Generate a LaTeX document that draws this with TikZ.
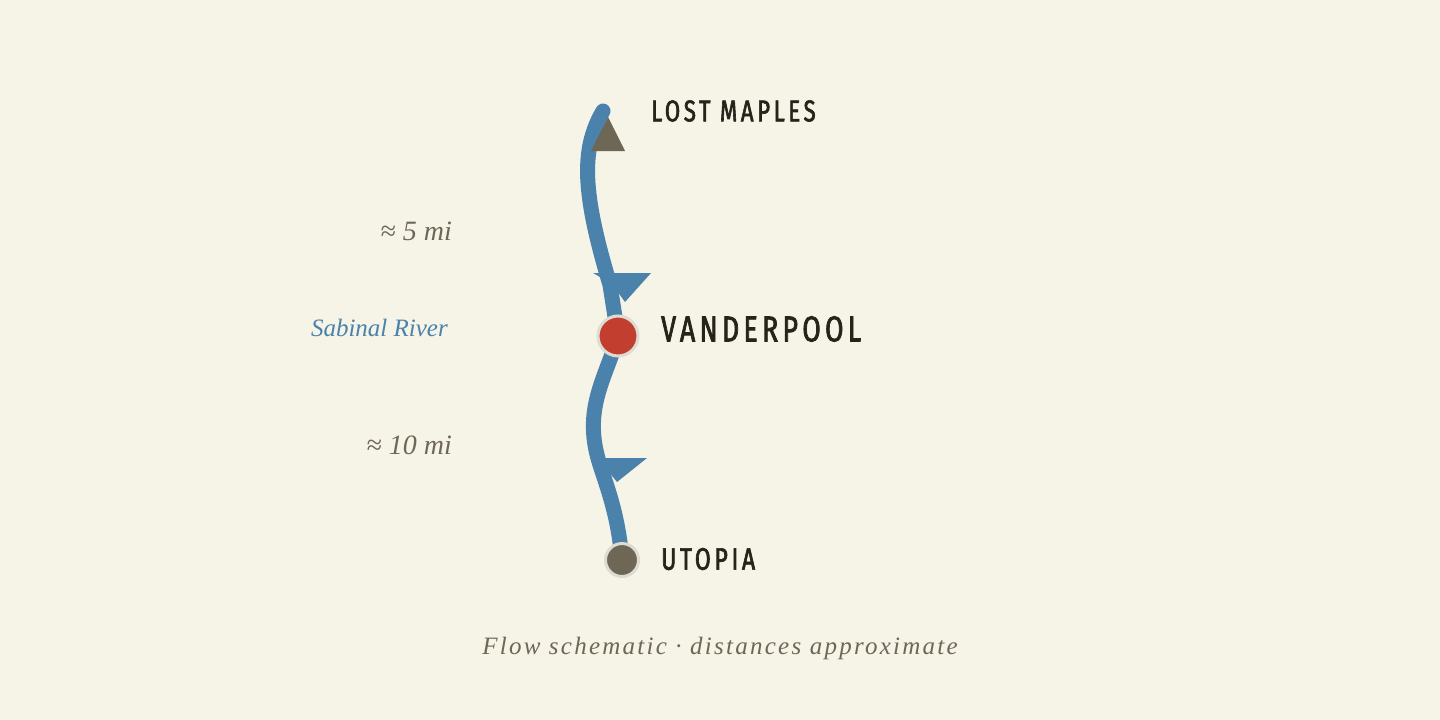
\documentclass[tikz,border=0pt]{standalone}
\usepackage{fontspec}
\setmainfont{Liberation Serif}
\newfontfamily\lbl[FakeStretch=0.74,FakeBold=2,LetterSpace=12]{Fira Sans}
\begin{document}
\begin{tikzpicture}[x=1pt,y=-1pt,
  river/.style={draw=riv,line width=15pt,line cap=round},
  flowmark/.style={fill=riv,draw=none},
  place/.style={anchor=west,inner sep=0},
  note/.style={inner sep=0}]
\definecolor{bg}{HTML}{F6F3E7}
\definecolor{riv}{HTML}{4A82AB}
\definecolor{ink}{HTML}{26231A}
\definecolor{grayt}{HTML}{6E6756}
\definecolor{redc}{HTML}{C23E2F}
\fill[bg] (0,0) rectangle (1440,720);
\useasboundingbox (0,0) rectangle (1440,720);
\coordinate (src) at (603,111);
\coordinate (van) at (618,336);
\coordinate (uto) at (622,560);
\draw[river] (src) .. controls (580,150) and (583,195) .. (610,285) -- (van);
\draw[river] (van) .. controls (605,380) and (582,410) .. (600,465) .. controls (608,490) and (618,515) .. (uto);
\fill[flowmark] (593,273) -- (651,273) -- (625,302) -- (612,284) -- cycle;
\fill[flowmark] (590,458) -- (647,458) -- (617,482) -- (604,466) -- cycle;
\node[circle,fill=redc,draw=bg!80!gray,line width=3pt,minimum size=40pt,inner sep=0] (vc) at (van) {};
\node[circle,fill=grayt,draw=bg!80!gray,line width=3pt,minimum size=33pt,inner sep=0] (uc) at (uto) {};
\fill[grayt] (608,117) -- (625,151) -- (591,151) -- cycle;
\node[place,font=\lbl\fontsize{30}{30}\selectfont\color{ink}] (lm) at (651,111) {LOST MAPLES};
\node[place,font=\lbl\fontsize{36}{36}\selectfont\color{ink}] (vl) at (661,329) {VANDERPOOL};
\node[place,font=\lbl\fontsize{31}{31}\selectfont\color{ink}] (ul) at (661,559) {UTOPIA};
\node[note,anchor=east,font=\itshape\fontsize{28}{28}\selectfont\color{grayt}] (d1) at (452,231) {≈ 5 mi};
\node[note,anchor=east,font=\itshape\fontsize{28}{28}\selectfont\color{grayt}] (d2) at (452,445) {≈ 10 mi};
\node[note,anchor=east,font=\itshape\fontsize{25}{25}\selectfont\color{riv}] (sr) at (448,328) {Sabinal River};
\node[note,font=\itshape\fontsize{25}{25}\selectfont\addfontfeature{LetterSpace=9}\color{grayt}] (ft) at (720,648) {Flow schematic · distances approximate};
\end{tikzpicture}
\end{document}
